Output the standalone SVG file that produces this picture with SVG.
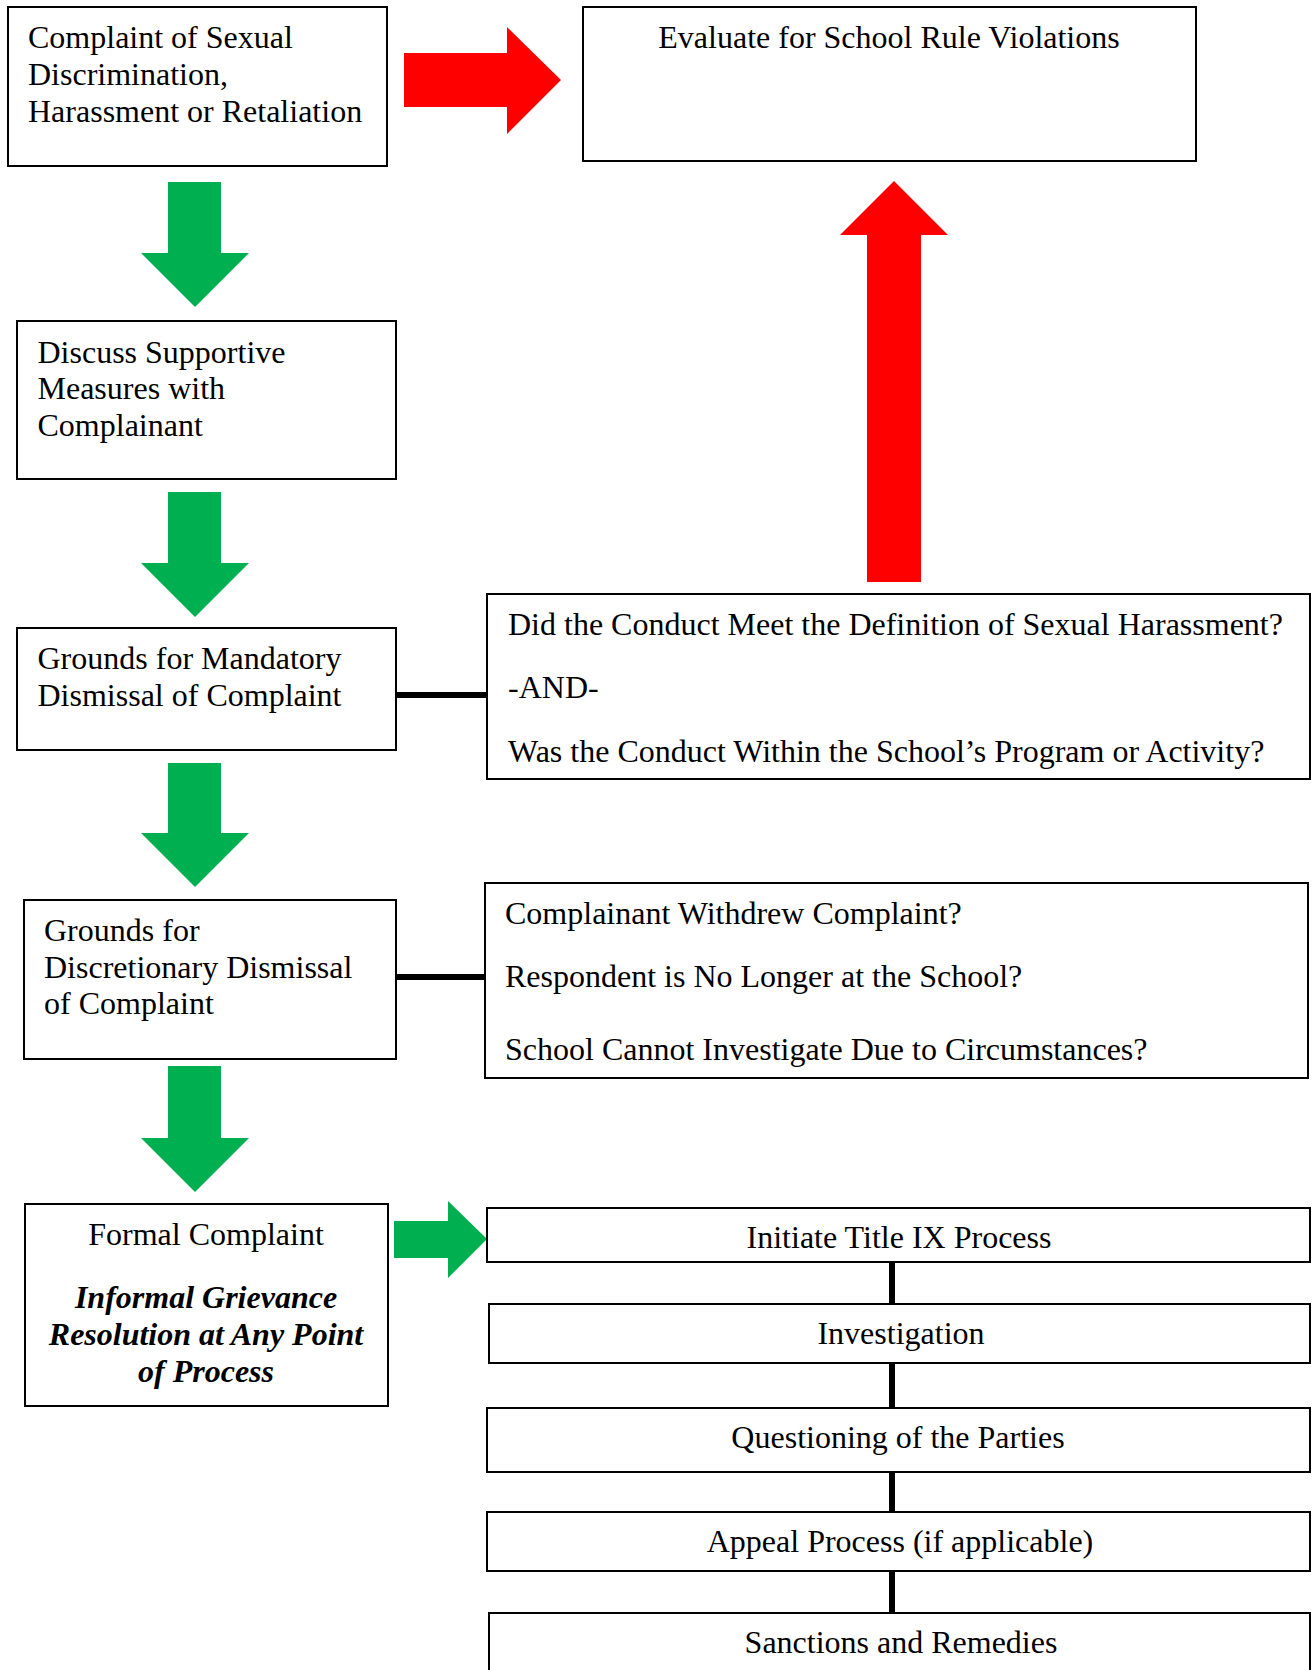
<svg xmlns="http://www.w3.org/2000/svg" width="1312" height="1670" viewBox="0 0 1312 1670">
<style>
.box{fill:#fff;stroke:#000;stroke-width:2}
.t{font-family:"Liberation Serif","Times New Roman",serif;font-size:32px;fill:#000}
.c{text-anchor:middle}
.bi{font-weight:bold;font-style:italic}
.con{stroke:#000;stroke-width:6;fill:none}
.red{fill:#FF0000}
.green{fill:#00B050}
</style>
<rect width="1312" height="1670" fill="#fff"/>
<g id="connectors">
<line class="con" x1="396" y1="695" x2="487" y2="695"/>
<line class="con" x1="396" y1="977" x2="485" y2="977"/>
<line class="con" x1="892" y1="1262" x2="892" y2="1304"/>
<line class="con" x1="892" y1="1363" x2="892" y2="1408"/>
<line class="con" x1="892" y1="1472" x2="892" y2="1512"/>
<line class="con" x1="892" y1="1571" x2="892" y2="1613"/>
<polygon class="red" points="404,53 507,53 507,27 561,80 507,134 507,107 404,107"/>
<polygon class="red" points="867,582 867,235 840,235 894,181 948,235 921,235 921,582"/>
<polygon class="green" points="168,182 221,182 221,253 249,253 195,307 141,253 168,253"/>
<polygon class="green" points="168,492 221,492 221,563 249,563 195,617 141,563 168,563"/>
<polygon class="green" points="168,763 221,763 221,833 249,833 195,887 141,833 168,833"/>
<polygon class="green" points="168,1066 221,1066 221,1138 249,1138 195,1192 141,1138 168,1138"/>
<polygon class="green" points="394,1221 448,1221 448,1201 487,1239 448,1278 448,1258 394,1258"/>
</g>
<g id="complaint">
<rect class="box" x="8" y="7" width="379" height="159"/>
<text class="t" x="28" y="48">Complaint of Sexual</text>
<text class="t" x="28" y="85">Discrimination,</text>
<text class="t" x="28" y="122">Harassment or Retaliation</text>
</g>
<g id="evaluate">
<rect class="box" x="583" y="7" width="613" height="154"/>
<text class="t c" x="889" y="48">Evaluate for School Rule Violations</text>
</g>
<g id="supportive">
<rect class="box" x="17" y="321" width="379" height="158"/>
<text class="t" x="37.5" y="363">Discuss Supportive</text>
<text class="t" x="37.5" y="399">Measures with</text>
<text class="t" x="37.5" y="436">Complainant</text>
</g>
<g id="mandatory">
<rect class="box" x="17" y="628" width="379" height="122"/>
<text class="t" x="37.5" y="669">Grounds for Mandatory</text>
<text class="t" x="37.5" y="706">Dismissal of Complaint</text>
</g>
<g id="definition">
<rect class="box" x="487" y="594" width="823" height="185"/>
<text class="t" x="508" y="635">Did the Conduct Meet the Definition of Sexual Harassment?</text>
<text class="t" x="508" y="698">-AND-</text>
<text class="t" x="508" y="762">Was the Conduct Within the School’s Program or Activity?</text>
</g>
<g id="discretionary">
<rect class="box" x="24" y="900" width="372" height="159"/>
<text class="t" x="44" y="941">Grounds for</text>
<text class="t" x="44" y="978">Discretionary Dismissal</text>
<text class="t" x="44" y="1014">of Complaint</text>
</g>
<g id="withdrew">
<rect class="box" x="485" y="883" width="823" height="195"/>
<text class="t" x="505" y="924">Complainant Withdrew Complaint?</text>
<text class="t" x="505" y="987">Respondent is No Longer at the School?</text>
<text class="t" x="505" y="1060">School Cannot Investigate Due to Circumstances?</text>
</g>
<g id="formal">
<rect class="box" x="25" y="1204" width="363" height="202"/>
<text class="t c" x="206" y="1245">Formal Complaint</text>
<text class="t c bi" x="206" y="1308">Informal Grievance</text>
<text class="t c bi" x="206" y="1345">Resolution at Any Point</text>
<text class="t c bi" x="206" y="1382">of Process</text>
</g>
<g id="initiate">
<rect class="box" x="487" y="1208" width="823" height="54"/>
<text class="t c" x="899" y="1248">Initiate Title IX Process</text>
</g>
<g id="investigation">
<rect class="box" x="489" y="1304" width="821" height="59"/>
<text class="t c" x="901" y="1344">Investigation</text>
</g>
<g id="questioning">
<rect class="box" x="487" y="1408" width="823" height="64"/>
<text class="t c" x="898" y="1448">Questioning of the Parties</text>
</g>
<g id="appeal">
<rect class="box" x="487" y="1512" width="823" height="59"/>
<text class="t c" x="900" y="1552">Appeal Process (if applicable)</text>
</g>
<g id="sanctions">
<rect class="box" x="489" y="1613" width="821" height="70"/>
<text class="t c" x="901" y="1653">Sanctions and Remedies</text>
</g>
</svg>
